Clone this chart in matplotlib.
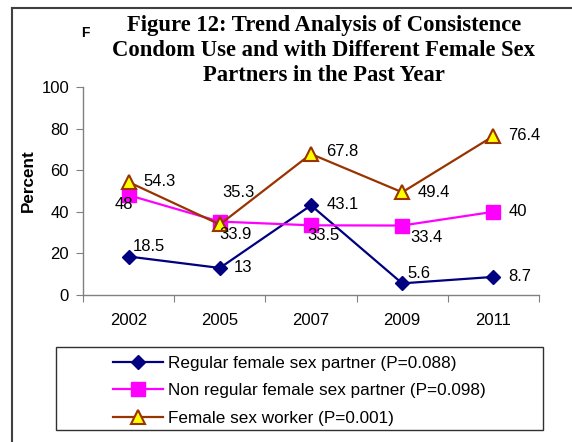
import matplotlib
matplotlib.use("Agg")
import matplotlib.pyplot as plt
from matplotlib.lines import Line2D
from matplotlib.patches import Rectangle

years = ["2002", "2005", "2007", "2009", "2011"]
regular = [18.5, 13, 43.1, 5.6, 8.7]
non_regular = [48, 35.3, 33.5, 33.4, 40]
fsw = [54.3, 33.9, 67.8, 49.4, 76.4]
series_names = ["Regular female sex partner (P=0.088)",
                "Non regular female sex partner (P=0.098)",
                "Female sex worker (P=0.001)"]
title_lines = ["Figure 12: Trend Analysis of Consistence",
               "Condom Use and with Different Female Sex",
               "Partners in the Past Year"]
yticks = [0, 20, 40, 60, 80, 100]

W, H = 572, 442
fig = plt.figure(figsize=(W / 100, H / 100), dpi=100)
plt.rcParams['font.family'] = ['Liberation Sans', 'DejaVu Sans']

ax = fig.add_axes([83 / W, 1 - 295 / H, (539 - 83) / W, (295 - 87) / H])
x = list(range(len(years)))

l1, = ax.plot(x, regular, color='#000080', lw=1.6, marker='D', ms=7,
              mfc='#000080', mec='#000080', zorder=3)
l2, = ax.plot(x, non_regular, color='#FF00FF', lw=1.6, marker='s', ms=10,
              mfc='#FF00FF', mec='#FF00FF', zorder=4)
l3, = ax.plot(x, fsw, color='#993300', lw=1.6, marker='^', ms=10,
              mfc='#FFFF00', mec='#993300', mew=1.5, zorder=5)

ax.set_xlim(-0.5, len(years) - 0.5)
ax.set_ylim(0, 100)
ax.set_yticks(yticks)
ax.set_xticks([i - 0.5 for i in range(len(years) + 1)])
ax.set_xticklabels([])
ax.set_xticks(x, minor=True)
ax.set_xticklabels(years, minor=True)
fs = 12
ax.tick_params(axis='x', which='major', length=5, direction='out', color='#808080')
ax.tick_params(axis='x', which='minor', length=0, pad=13, labelsize=fs)
ax.tick_params(axis='y', length=5, direction='out', color='#808080', pad=5, labelsize=fs)
for s in ['top', 'right']:
    ax.spines[s].set_visible(False)
for s in ['left', 'bottom']:
    ax.spines[s].set_color('#808080')
    ax.spines[s].set_linewidth(1.0)
ax.set_ylabel("Percent", fontweight='bold', fontsize=12.3)
ax.yaxis.set_label_coords(-0.103, 0.548)

# data labels (offsets in pixels)
def lab(xi, yi, txt, dx, dy, ha='center'):
    ax.annotate(txt, (xi, yi), xytext=(dx, dy), textcoords='offset pixels',
                ha=ha, va='center', fontsize=fs, zorder=6)

reg_off = [(20, 10, 'center'), (14, 0, 'left'), (16, 1, 'left'), (5, 10, 'left'), (15, 0, 'left')]
nr_off = [(-5, -9, 'center'), (19, 29, 'center'), (12, -10, 'center'), (24, -12, 'center'), (15, 0, 'left')]
fsw_off = [(15, 1, 'left'), (16, -10, 'center'), (15, 2, 'left'), (15, 0, 'left'), (15, 1, 'left')]
for vals, offs in [(regular, reg_off), (non_regular, nr_off), (fsw, fsw_off)]:
    for xi, (v, (dx, dy, ha)) in enumerate(zip(vals, offs)):
        lab(xi, v, f"{v:g}", dx, dy, ha)

# title
for i, t in enumerate(title_lines):
    fig.text(324 / W, 1 - (31 + 25 * i) / H, t, ha='center', va='baseline',
             fontsize=16.3, fontweight='bold', family=['Liberation Serif', 'DejaVu Serif'])
fig.text(85 / W, 1 - 37 / H, "F", ha='center', va='baseline', fontsize=10, fontweight='bold')

# outer frame (left + top)
fig.add_artist(Line2D([12 / W, 12 / W], [0, 1 - 8 / H], transform=fig.transFigure,
                      color='#404040', lw=1.5))
fig.add_artist(Line2D([12 / W, 1], [1 - 8 / H, 1 - 8 / H], transform=fig.transFigure,
                      color='#404040', lw=1.5))

# legend box
fig.add_artist(Rectangle((56 / W, 1 - 430 / H), (543 - 56) / W, (430 - 347) / H,
                         transform=fig.transFigure, fill=False, ec='#303030', lw=1.0))
leg = fig.legend([l1, l2, l3], series_names, loc='upper left',
                 bbox_to_anchor=(106 / W, 1 - 349 / H), frameon=False, fontsize=12.3,
                 handlelength=2.93, handletextpad=0.29, labelspacing=0.74,
                 borderaxespad=0, borderpad=0.4)

fig.savefig("out.png", dpi=100)
